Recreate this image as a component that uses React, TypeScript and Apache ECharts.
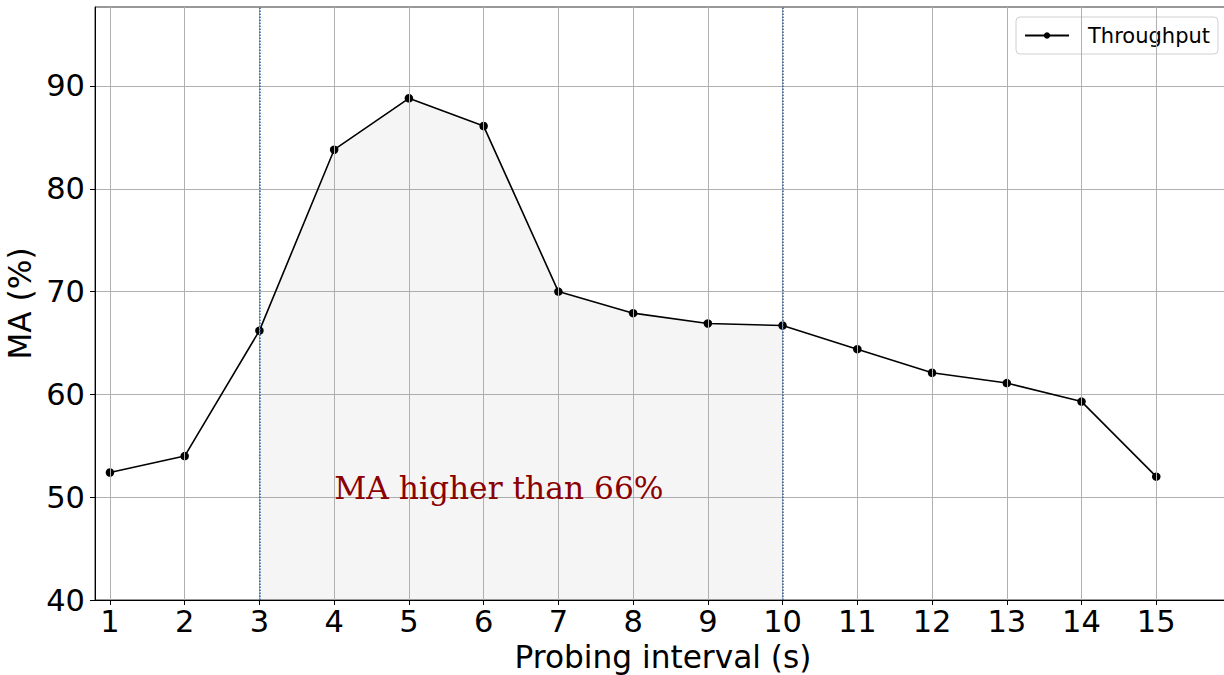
import React, { useEffect, useRef } from "react";
import * as echarts from "echarts";

const probingIntervals = [1, 2, 3, 4, 5, 6, 7, 8, 9, 10, 11, 12, 13, 14, 15];
const maValues = [52.4, 54.0, 66.2, 83.8, 88.8, 86.1, 70.0, 67.9, 66.9, 66.7, 64.4, 62.1, 61.1, 59.3, 52.0];
const yTicks = [40, 50, 60, 70, 80, 90];
const shadeStart = 3;
const shadeEnd = 10;
const annotationText = "MA higher than 66%";
const annotationAt = [4, 50];

export default function App() {
  const ref = useRef<HTMLDivElement>(null);
  useEffect(() => {
    if (!ref.current) return;
    const chart = echarts.init(ref.current, null, { renderer: "svg" });
    const lineData = probingIntervals.map((x, i) => [x, maValues[i]]);
    const fillData = lineData.filter((d) => d[0] >= shadeStart && d[0] <= shadeEnd);
    const font = "DejaVu Sans";
    chart.setOption({
      animation: false,
      grid: {
        left: 95,
        right: -7,
        top: 7,
        bottom: 75,
        outerBoundsMode: "none",
        containLabel: false,
        show: true,
        borderColor: "#333",
        borderWidth: 1,
        backgroundColor: "transparent",
      },
      legend: {
        data: ["Throughput"],
        right: 6,
        top: 17,
        orient: "vertical",
        itemWidth: 44,
        itemHeight: 8,
        itemGap: 0,
        padding: [8, 8, 8, 8],
        borderColor: "#d0d0d0",
        borderWidth: 1,
        borderRadius: 4,
        backgroundColor: "rgba(255,255,255,0.8)",
        textStyle: { fontFamily: font, fontSize: 21, color: "#000", padding: [0, 0, 0, 14] },
      },
      xAxis: {
        type: "value",
        min: 0.8,
        max: 16,
        name: "Probing interval (s)",
        nameLocation: "middle",
        nameGap: 40,
        nameTextStyle: { fontFamily: font, fontSize: 31.2, color: "#000" },
        axisLine: { show: true, lineStyle: { color: "#000", width: 1 } },
        axisTick: { show: true, length: 5, customValues: probingIntervals, lineStyle: { color: "#000" } },
        axisLabel: {
          customValues: probingIntervals,
          fontFamily: font,
          fontSize: 30.5,
          color: "#000",
          margin: 6,
        },
        splitLine: { show: false },
      },
      yAxis: {
        type: "value",
        min: 40,
        max: 97.68,
        name: "MA (%)",
        nameLocation: "middle",
        nameGap: 51,
        nameTextStyle: { fontFamily: font, fontSize: 31.2, color: "#000" },
        axisLine: { show: true, lineStyle: { color: "#000", width: 1 } },
        axisTick: { show: true, length: 5, customValues: yTicks, lineStyle: { color: "#000" } },
        axisLabel: {
          customValues: yTicks,
          fontFamily: font,
          fontSize: 30.5,
          color: "#000",
          margin: 10,
        },
        splitLine: { show: true, lineStyle: { color: "#b0b0b0", width: 1 } },
      },
      series: [
        {
          name: "grid",
          type: "line",
          data: [],
          z: 0,
          silent: true,
          markLine: {
            silent: true,
            symbol: ["none", "none"],
            label: { show: false },
            lineStyle: { color: "#b0b0b0", width: 1, type: "solid" },
            data: probingIntervals.map((x) => ({ xAxis: x })),
          },
        },
        {
          name: "shade",
          type: "line",
          data: fillData,
          z: 1,
          symbol: "none",
          silent: true,
          lineStyle: { width: 0, opacity: 0 },
          areaStyle: { color: "rgba(128,128,128,0.11)", origin: "start" },
          markLine: {
            silent: true,
            symbol: ["none", "none"],
            label: { show: false },
            lineStyle: { color: "#2b5ea8", width: 1.5, type: "dotted" },
            data: [{ xAxis: shadeStart }, { xAxis: shadeEnd }],
          },
        },
        {
          name: "Throughput",
          type: "line",
          data: lineData,
          z: 3,
          color: "#000",
          symbol: "circle",
          symbolSize: 8.5,
          lineStyle: { color: "#000", width: 1.6 },
          itemStyle: { color: "#000" },
        },
      ],
    });
    const p = chart.convertToPixel({ gridIndex: 0 }, annotationAt) as number[];
    chart.setOption({
      graphic: [
        {
          type: "text",
          x: p[0],
          y: p[1] + 6,
          z: 10,
          style: {
            text: annotationText,
            fill: "#8b0000",
            font: "31.3px 'DejaVu Serif'",
            textAlign: "left",
            textVerticalAlign: "bottom",
          },
        },
      ],
    });
    return () => chart.dispose();
  }, []);
  return (
    <div
      ref={ref}
      style={{ position: "fixed", left: 0, top: 0, width: 1224, height: 675, background: "#fff" }}
    />
  );
}
